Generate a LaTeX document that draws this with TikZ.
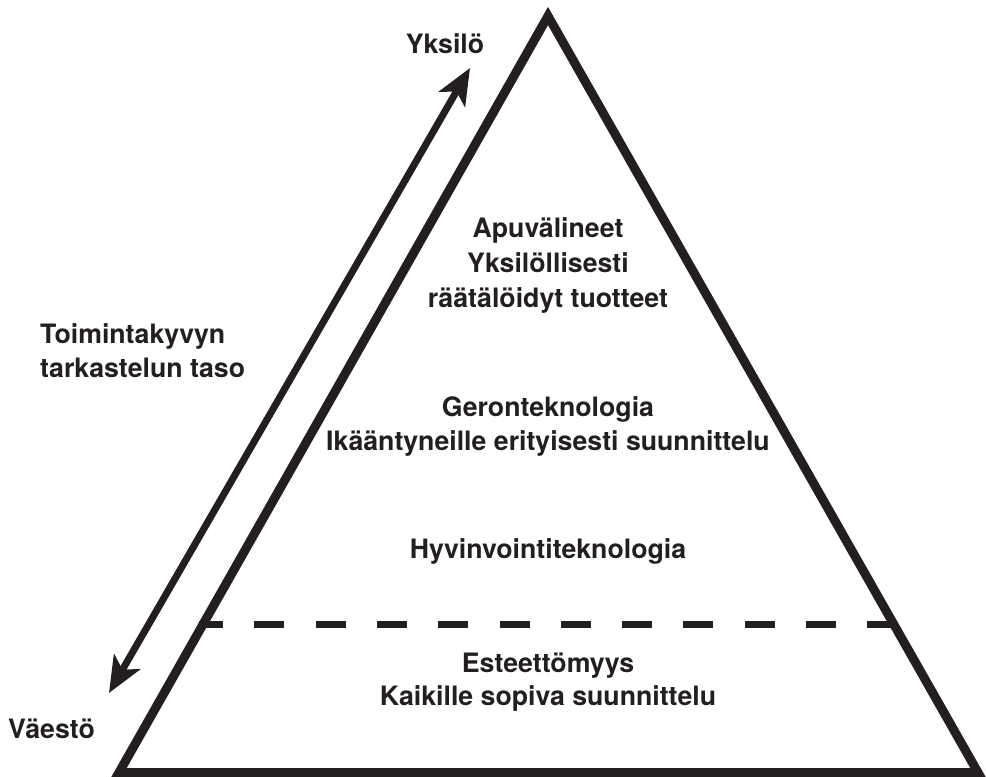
\documentclass[tikz,border=0pt]{standalone}
\usepackage{fontspec}
\setmainfont{TeX Gyre Heros}
\usetikzlibrary{arrows.meta}
\definecolor{ink}{HTML}{231F20}
\begin{document}
\begin{tikzpicture}[x=1pt,y=-1pt,
  lbl/.style={text=ink,font=\fontsize{26.7}{34.5}\selectfont\bfseries,inner sep=0pt,anchor=base},
  lbll/.style={lbl,anchor=base west},
  edge/.style={draw=ink,line width=9pt,line join=miter},
  dline/.style={draw=ink,line width=7pt,dash pattern=on 30pt off 31.3pt,dash phase=6pt},
  arr/.style={draw=ink,line width=7pt,{Stealth[length=36pt,width=30pt,inset=9pt]}-{Stealth[length=36pt,width=30pt,inset=9pt]}}]
\useasboundingbox (0,0) rectangle (986,777);
\coordinate (apex) at (548,16);
\coordinate (bl) at (119,772.5);
\coordinate (br) at (978,772.5);
\draw[edge] (apex) -- (bl) -- (br) -- cycle;
\coordinate (dl) at (199,624);
\coordinate (dr) at (897,624);
\draw[dline] (dl) -- (dr);
\coordinate (alow) at (109,693);
\coordinate (ahigh) at (470,68);
\draw[arr] (alow) -- (ahigh);
\node[lbl] (yks) at (445,53) {Yksilö};
\node[lbl] (apu1) at (548,237) {Apuvälineet};
\node[lbl] (apu2) at (548,272) {Yksilöllisesti};
\node[lbl] (apu3) at (548,307) {räätälöidyt tuotteet};
\node[lbll] (toi1) at (40,343) {Toimintakyvyn};
\node[lbll] (toi2) at (40,377) {tarkastelun taso};
\node[lbl] (ger1) at (548,416) {Geronteknologia};
\node[lbl] (ger2) at (548,450) {Ikääntyneille erityisesti suunnittelu};
\node[lbl] (hyv) at (548,558) {Hyvinvointiteknologia};
\node[lbl] (est1) at (548,672) {Esteettömyys};
\node[lbl] (est2) at (548,705) {Kaikille sopiva suunnittelu};
\node[lbll] (vae) at (8,738) {Väestö};
\end{tikzpicture}
\end{document}
